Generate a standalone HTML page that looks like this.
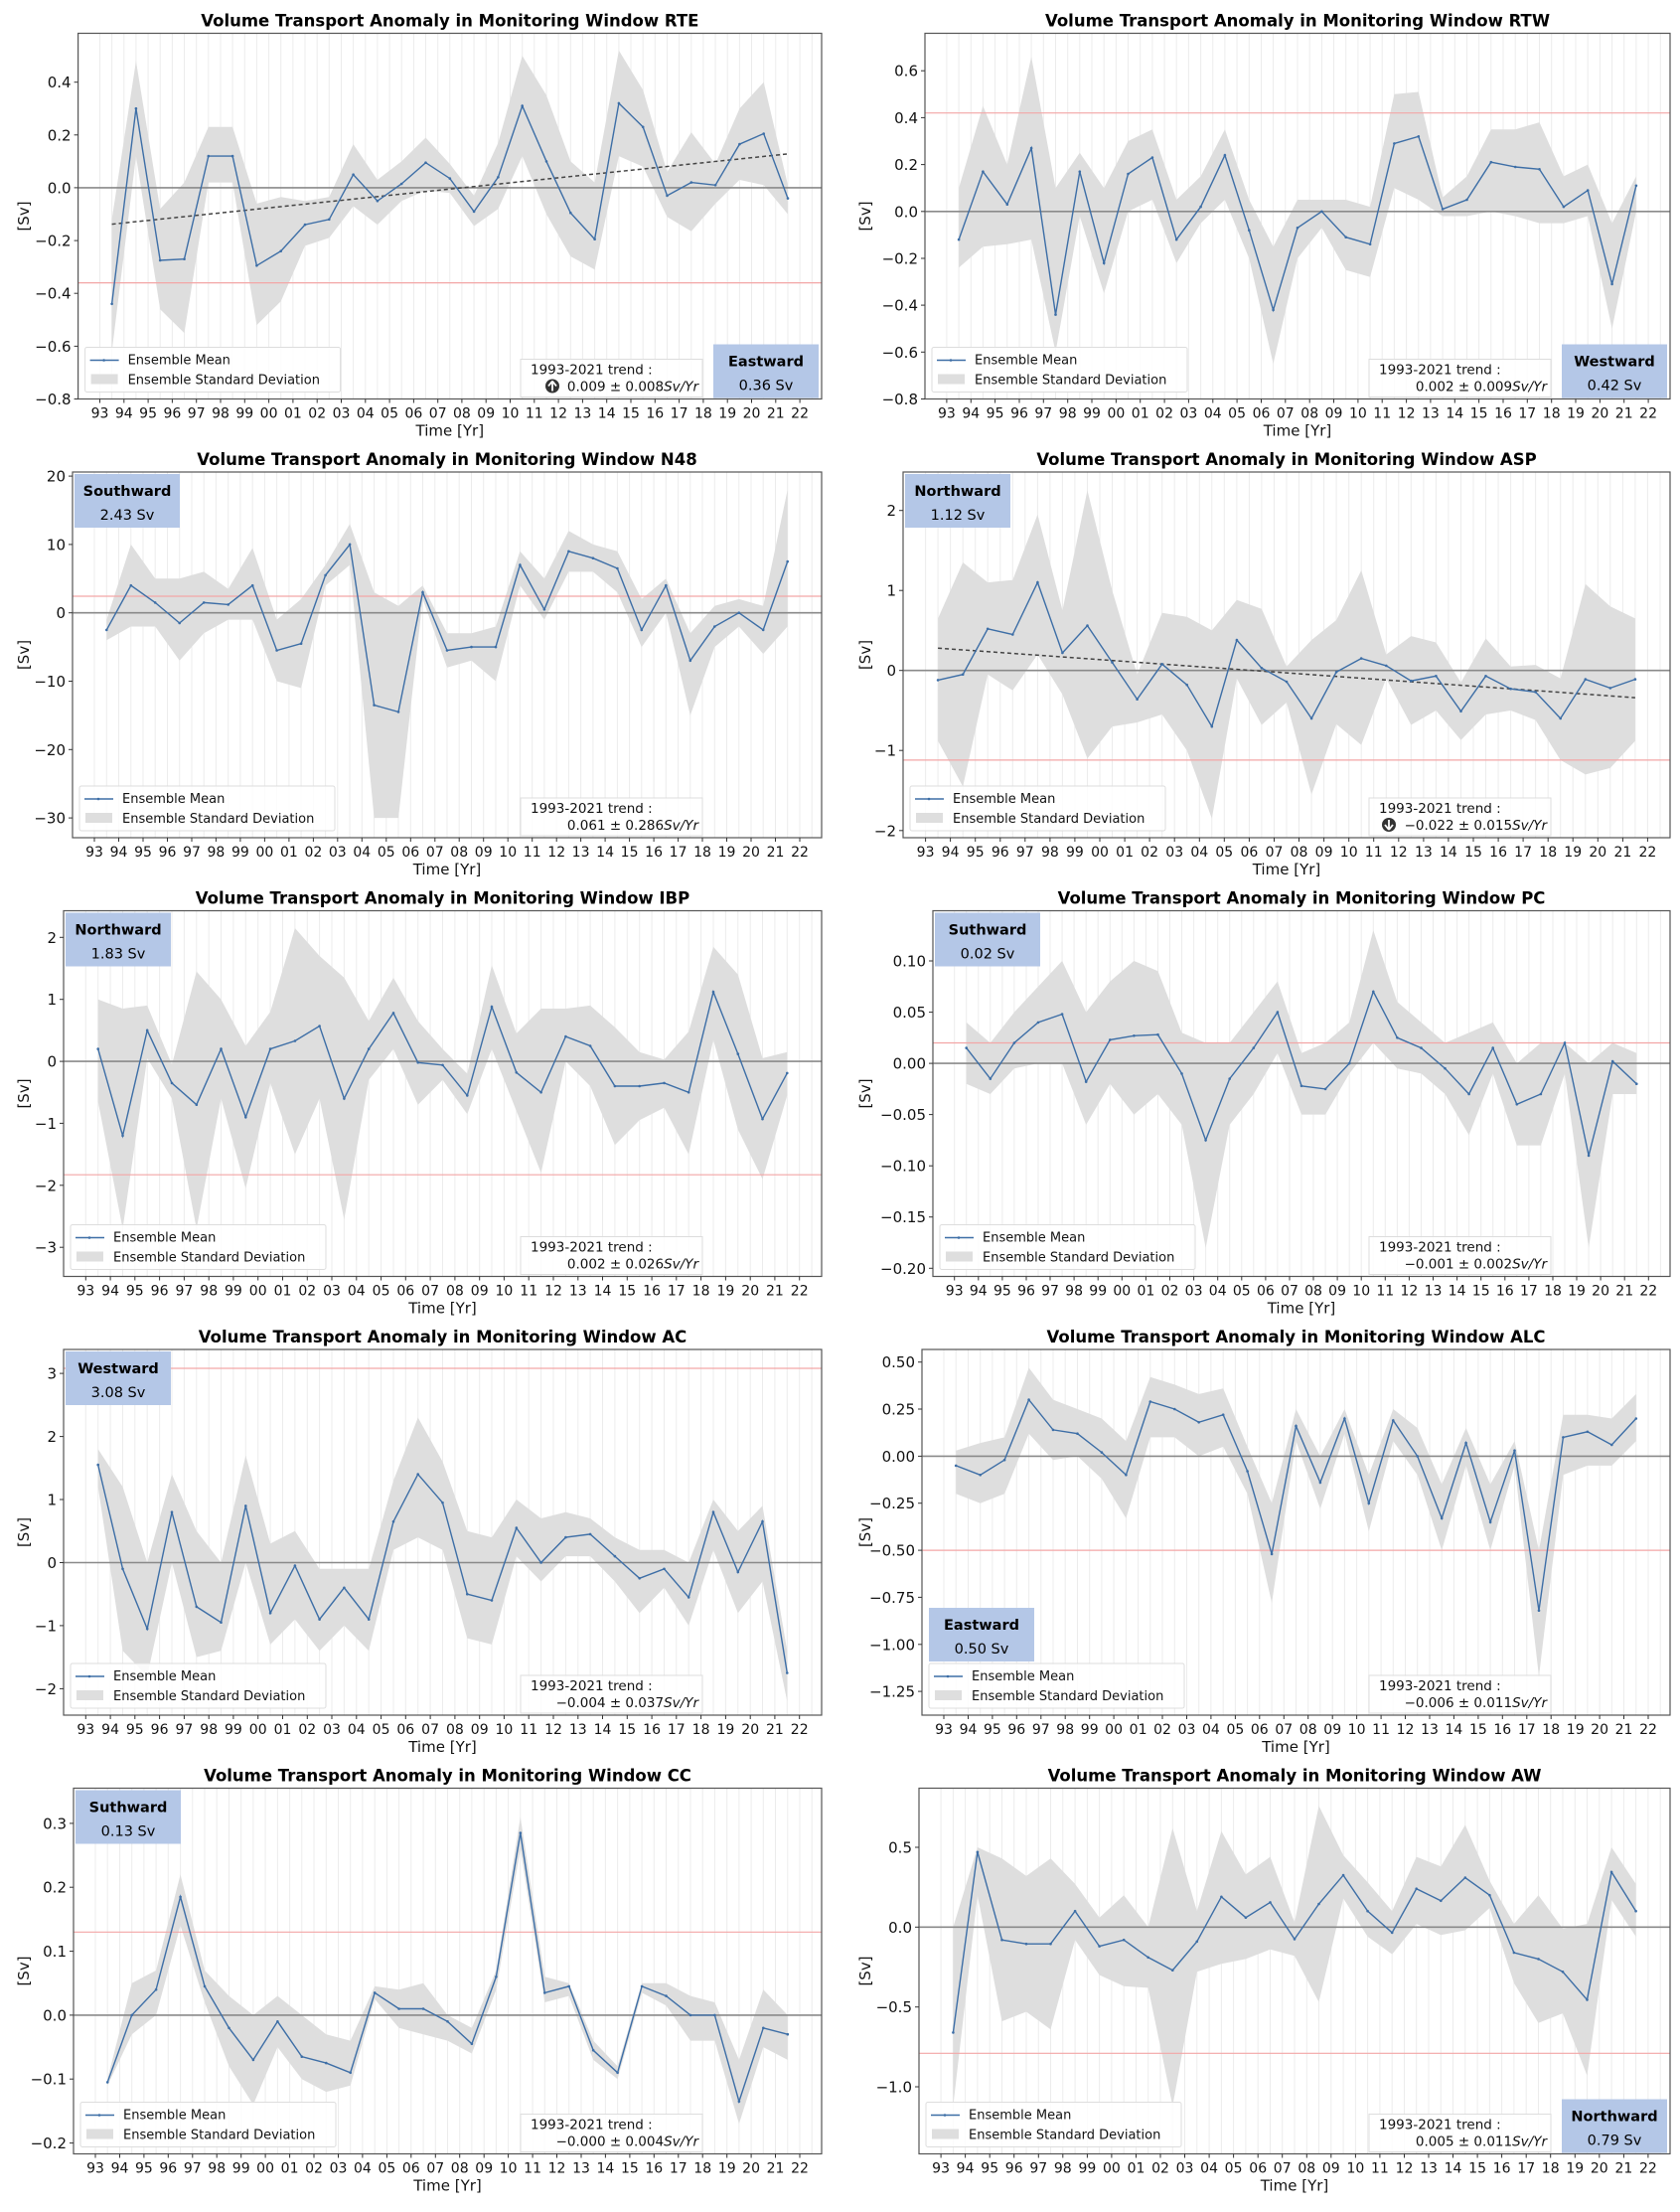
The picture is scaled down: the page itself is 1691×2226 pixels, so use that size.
<!DOCTYPE html>
<html><head><meta charset="utf-8">
<style>
html,body{margin:0;padding:0;background:#fff;}
svg{display:block;font-family:"DejaVu Sans","Liberation Sans",sans-serif;}
</style></head>
<body>
<svg id="s" width="1691" height="2226" viewBox="0 0 1691 2226" xmlns="http://www.w3.org/2000/svg"></svg>
<script>
const P=[
{name:"RTE",col:0,row:0,left:78.6,ylim:[0.585,-0.8],ticks:[[0.4,"0.4"],[0.2,"0.2"],[0,"0.0"],[-0.2,"\u22120.2"],[-0.4,"\u22120.4"],[-0.6,"\u22120.6"],[-0.8,"\u22120.8"]],
 m:[-0.44,0.30,-0.275,-0.27,0.12,0.12,-0.295,-0.24,-0.14,-0.12,0.05,-0.05,0.015,0.095,0.035,-0.09,0.04,0.31,0.10,-0.095,-0.195,0.32,0.23,-0.03,0.02,0.01,0.165,0.205,-0.04],
 u:[-0.12,0.48,-0.08,0.02,0.23,0.23,-0.06,-0.035,-0.05,-0.035,0.165,0.03,0.10,0.19,0.09,-0.03,0.17,0.50,0.35,0.10,0.02,0.52,0.37,0.06,0.21,0.09,0.30,0.40,0.01],
 l:[-0.62,0.12,-0.46,-0.55,0.02,0.02,-0.52,-0.43,-0.22,-0.19,-0.07,-0.14,-0.05,-0.01,-0.02,-0.145,-0.08,0.12,-0.10,-0.26,-0.31,0.12,0.08,-0.11,-0.165,-0.06,0.03,0.01,-0.10],
 red:-0.36,trend:[-0.138,0.128],arrow:"up",tr:"0.009 \u00b1 0.008",box:["Eastward","0.36 Sv","br"]},
{name:"RTW",col:1,row:0,left:931,ylim:[0.76,-0.8],ticks:[[0.6,"0.6"],[0.4,"0.4"],[0.2,"0.2"],[0,"0.0"],[-0.2,"\u22120.2"],[-0.4,"\u22120.4"],[-0.6,"\u22120.6"],[-0.8,"\u22120.8"]],
 m:[-0.12,0.17,0.03,0.27,-0.44,0.17,-0.22,0.16,0.23,-0.12,0.02,0.24,-0.08,-0.42,-0.07,0.0,-0.11,-0.14,0.29,0.32,0.01,0.05,0.21,0.19,0.18,0.02,0.09,-0.31,0.11],
 u:[0.1,0.45,0.2,0.66,0.1,0.25,0.1,0.3,0.35,0.05,0.15,0.35,0.05,-0.15,0.05,0.05,0.05,0.02,0.5,0.51,0.06,0.15,0.35,0.35,0.38,0.15,0.2,-0.05,0.15],
 l:[-0.24,-0.15,-0.14,-0.12,-0.6,-0.02,-0.35,0.0,0.05,-0.22,-0.05,0.05,-0.2,-0.65,-0.2,-0.07,-0.25,-0.28,0.1,0.05,-0.02,-0.02,0.0,-0.02,-0.05,-0.05,-0.02,-0.5,0.0],
 red:0.42,tr:"0.002 \u00b1 0.009",box:["Westward","0.42 Sv","br"]},
{name:"N48",col:0,row:1,left:73,ylim:[20.6,-32.9],ticks:[[20,"20"],[10,"10"],[0,"0"],[-10,"\u221210"],[-20,"\u221220"],[-30,"\u221230"]],
 m:[-2.5,4,1.5,-1.5,1.5,1.2,4,-5.5,-4.5,5.5,10,-13.5,-14.5,3,-5.5,-5,-5,7,0.5,9,8,6.5,-2.5,4,-7,-2,0,-2.5,7.5],
 u:[-1,10,5,5,6,3.5,9.5,-1,2,7,13,3,1,4,-3,-3,-2,9,5,12,10,9,2,5,-3,1,2,1,18],
 l:[-4,-2,-2,-7,-3,-1,-1,-10,-11,4,7,-30,-30,2,-8,-7,-10,4,-1,6,6,3,-5,0,-15,-5,-2,-6,-2],
 red:2.43,tr:"0.061 \u00b1 0.286",box:["Southward","2.43 Sv","tl"]},
{name:"ASP",col:1,row:1,left:909,ylim:[2.48,-2.09],ticks:[[2,"2"],[1,"1"],[0,"0"],[-1,"\u22121"],[-2,"\u22122"]],
 m:[-0.12,-0.05,0.52,0.45,1.1,0.22,0.56,0.1,-0.36,0.08,-0.18,-0.7,0.38,0.03,-0.14,-0.6,-0.02,0.15,0.06,-0.13,-0.07,-0.51,-0.07,-0.23,-0.27,-0.6,-0.11,-0.22,-0.11],
 u:[0.65,1.35,1.1,1.13,1.95,0.75,2.25,1.0,-0.05,0.72,0.67,0.5,0.88,0.77,0.05,0.38,0.63,1.25,0.2,0.43,0.35,-0.15,0.4,0.05,0.07,-0.1,1.08,0.8,0.65],
 l:[-0.88,-1.45,-0.05,-0.25,0.2,-0.3,-1.1,-0.7,-0.65,-0.55,-1.0,-1.85,-0.1,-0.68,-0.4,-1.55,-0.67,-0.93,-0.1,-0.68,-0.5,-0.87,-0.55,-0.5,-0.62,-1.12,-1.3,-1.22,-0.88],
 red:-1.12,trend:[0.28,-0.34],arrow:"down",tr:"\u22120.022 \u00b1 0.015",box:["Northward","1.12 Sv","tl"]},
{name:"IBP",col:0,row:2,left:64,ylim:[2.43,-3.47],ticks:[[2,"2"],[1,"1"],[0,"0"],[-1,"\u22121"],[-2,"\u22122"],[-3,"\u22123"]],
 m:[0.2,-1.2,0.5,-0.35,-0.7,0.2,-0.9,0.2,0.33,0.57,-0.6,0.2,0.78,-0.02,-0.06,-0.55,0.88,-0.18,-0.5,0.4,0.25,-0.4,-0.4,-0.35,-0.5,1.12,0.12,-0.93,-0.19],
 u:[1.0,0.85,0.9,-0.05,1.45,1.0,0.25,0.8,2.15,1.7,1.35,0.65,1.35,0.65,0.2,-0.2,1.55,0.45,0.85,0.85,0.9,0.55,0.15,0.03,0.48,1.85,1.4,0.05,0.15],
 l:[-0.65,-2.7,0.05,-0.6,-2.7,-0.6,-2.05,-0.35,-1.5,-0.6,-2.55,-0.3,0.2,-0.7,-0.3,-0.85,0.2,-0.8,-1.8,0.0,-0.4,-1.35,-0.95,-0.75,-1.5,0.35,-1.1,-1.9,-0.55],
 red:-1.83,tr:"0.002 \u00b1 0.026",box:["Northward","1.83 Sv","tl"]},
{name:"PC",col:1,row:2,left:939,ylim:[0.149,-0.208],ticks:[[0.1,"0.10"],[0.05,"0.05"],[0,"0.00"],[-0.05,"\u22120.05"],[-0.1,"\u22120.10"],[-0.15,"\u22120.15"],[-0.2,"\u22120.20"]],
 m:[0.015,-0.015,0.02,0.04,0.048,-0.018,0.023,0.027,0.028,-0.01,-0.075,-0.015,0.015,0.05,-0.022,-0.025,0.0,0.07,0.025,0.015,-0.005,-0.03,0.015,-0.04,-0.03,0.02,-0.09,0.002,-0.02],
 u:[0.04,0.02,0.05,0.075,0.10,0.05,0.08,0.10,0.09,0.03,0.02,0.02,0.05,0.08,0.01,0.02,0.04,0.13,0.06,0.04,0.02,0.03,0.04,0.0,0.02,0.02,0.0,0.02,0.01],
 l:[-0.02,-0.03,-0.005,0.0,0.0,-0.06,-0.02,-0.05,-0.03,-0.06,-0.18,-0.06,-0.03,0.01,-0.05,-0.05,-0.01,0.02,-0.005,-0.01,-0.03,-0.07,-0.01,-0.08,-0.08,-0.01,-0.18,-0.03,-0.03],
 red:0.02,tr:"\u22120.001 \u00b1 0.002",box:["Suthward","0.02 Sv","tl"]},
{name:"AC",col:0,row:3,left:64,ylim:[3.38,-2.42],ticks:[[3,"3"],[2,"2"],[1,"1"],[0,"0"],[-1,"\u22121"],[-2,"\u22122"]],
 m:[1.55,-0.1,-1.05,0.8,-0.7,-0.95,0.9,-0.8,-0.05,-0.9,-0.4,-0.9,0.65,1.4,0.95,-0.5,-0.6,0.55,0.0,0.4,0.45,0.1,-0.25,-0.1,-0.55,0.8,-0.15,0.65,-1.75],
 u:[1.8,1.2,0.0,1.4,0.5,0.0,1.7,0.3,0.5,-0.1,-0.1,-0.1,1.3,2.3,1.6,0.5,0.4,1.0,0.7,0.8,0.7,0.4,0.2,0.2,0.0,1.0,0.5,0.9,-1.4],
 l:[1.2,-1.4,-1.8,0.0,-1.5,-1.4,0.0,-1.3,-0.9,-1.4,-1.0,-1.4,0.2,0.4,0.2,-1.2,-1.3,0.1,-0.3,0.1,0.1,-0.3,-0.8,-0.4,-1.0,0.2,-0.8,-0.3,-2.2],
 red:3.08,tr:"\u22120.004 \u00b1 0.037",box:["Westward","3.08 Sv","tl"]},
{name:"ALC",col:1,row:3,left:928,ylim:[0.567,-1.376],ticks:[[0.5,"0.50"],[0.25,"0.25"],[0,"0.00"],[-0.25,"\u22120.25"],[-0.5,"\u22120.50"],[-0.75,"\u22120.75"],[-1,"\u22121.00"],[-1.25,"\u22121.25"]],
 m:[-0.05,-0.1,-0.02,0.3,0.14,0.12,0.02,-0.1,0.29,0.25,0.18,0.22,-0.08,-0.52,0.16,-0.14,0.2,-0.25,0.19,0.0,-0.33,0.07,-0.35,0.03,-0.82,0.1,0.13,0.06,0.2],
 u:[0.03,0.07,0.1,0.47,0.3,0.25,0.2,0.08,0.42,0.38,0.33,0.36,0.05,-0.25,0.25,0.0,0.25,-0.1,0.25,0.15,-0.15,0.15,-0.15,0.08,-0.5,0.22,0.22,0.2,0.33],
 l:[-0.2,-0.25,-0.2,0.12,-0.02,0.0,-0.12,-0.33,0.1,0.1,0.0,0.05,-0.2,-0.78,0.08,-0.28,0.12,-0.4,0.08,-0.1,-0.5,-0.05,-0.5,-0.05,-1.17,-0.1,-0.05,-0.05,0.08],
 red:-0.5,tr:"\u22120.006 \u00b1 0.011",box:["Eastward","0.50 Sv","ml"]},
{name:"CC",col:0,row:4,left:74,ylim:[0.355,-0.217],ticks:[[0.3,"0.3"],[0.2,"0.2"],[0.1,"0.1"],[0,"0.0"],[-0.1,"\u22120.1"],[-0.2,"\u22120.2"]],
 m:[-0.105,0.0,0.04,0.185,0.045,-0.02,-0.07,-0.01,-0.065,-0.075,-0.09,0.035,0.01,0.01,-0.01,-0.045,0.06,0.285,0.035,0.045,-0.055,-0.09,0.045,0.03,0.0,0.0,-0.135,-0.02,-0.03],
 u:[-0.1,0.05,0.07,0.22,0.07,0.03,0.0,0.03,0.0,-0.03,-0.04,0.045,0.04,0.05,0.0,-0.02,0.07,0.31,0.06,0.05,-0.04,-0.08,0.05,0.05,0.03,0.02,-0.07,0.04,0.0],
 l:[-0.11,-0.03,0.0,0.14,0.02,-0.08,-0.14,-0.05,-0.1,-0.12,-0.11,0.025,-0.02,-0.03,-0.04,-0.06,0.04,0.26,0.02,0.03,-0.07,-0.1,0.035,0.015,-0.04,-0.04,-0.17,-0.05,-0.07],
 red:0.13,tr:"\u22120.000 \u00b1 0.004",box:["Suthward","0.13 Sv","tl"]},
{name:"AW",col:1,row:4,left:925,ylim:[0.87,-1.42],ticks:[[0.5,"0.5"],[0,"0.0"],[-0.5,"\u22120.5"],[-1,"\u22121.0"]],
 m:[-0.66,0.47,-0.08,-0.105,-0.105,0.1,-0.12,-0.08,-0.19,-0.27,-0.09,0.19,0.06,0.155,-0.075,0.145,0.325,0.1,-0.035,0.24,0.165,0.31,0.2,-0.16,-0.2,-0.28,-0.455,0.345,0.1],
 u:[0.0,0.5,0.43,0.32,0.43,0.27,0.06,0.2,0.0,0.62,0.1,0.6,0.33,0.44,0.03,0.76,0.45,0.28,0.1,0.44,0.38,0.64,0.29,0.02,0.2,-0.01,0.02,0.5,0.27],
 l:[-1.12,0.2,-0.59,-0.53,-0.64,-0.08,-0.3,-0.37,-0.38,-1.12,-0.28,-0.23,-0.2,-0.14,-0.18,-0.47,0.18,-0.06,-0.17,0.02,-0.05,-0.02,0.12,-0.35,-0.6,-0.54,-0.93,0.17,-0.06],
 red:-0.79,tr:"0.005 \u00b1 0.011",box:["Northward","0.79 Sv","br"]}
];
let o="";
const f=v=>v.toFixed(1);
for(const p of P){
 const top=33.5+441.5*p.row, H=368, bot=top+H, L=p.left, R=p.col?1681:827, W=R-L;
 const X=t=>L+(t-92.1)/30.8*W;
 const Y=v=>top+(p.ylim[0]-v)/(p.ylim[0]-p.ylim[1])*H;
 o+=`<defs><clipPath id="c${p.name}"><rect x="${L}" y="${top}" width="${W}" height="${H}"/></clipPath></defs>`;
 for(let t=93;t<=122.5;t+=0.5){o+=`<line x1="${f(X(t))}" y1="${top}" x2="${f(X(t))}" y2="${bot}" stroke="#ececec" stroke-width="1"/>`;}
 let pts=[];for(let i=0;i<29;i++)pts.push(f(X(93.5+i))+","+f(Y(p.u[i])));
 for(let i=28;i>=0;i--)pts.push(f(X(93.5+i))+","+f(Y(p.l[i])));
 o+=`<g clip-path="url(#c${p.name})"><polygon points="${pts.join(" ")}" fill="#dedede"/>`;
 o+=`<line x1="${L}" y1="${f(Y(0))}" x2="${R}" y2="${f(Y(0))}" stroke="#8a8a8a" stroke-width="1.6"/>`;
 o+=`<line x1="${L}" y1="${f(Y(p.red))}" x2="${R}" y2="${f(Y(p.red))}" stroke="#f3a6a6" stroke-width="1.2"/>`;
 if(p.trend)o+=`<line x1="${f(X(93.5))}" y1="${f(Y(p.trend[0]))}" x2="${f(X(121.5))}" y2="${f(Y(p.trend[1]))}" stroke="#444" stroke-width="1.5" stroke-dasharray="4,3"/>`;
 let mp=[];for(let i=0;i<29;i++)mp.push(f(X(93.5+i))+","+f(Y(p.m[i])));
 o+=`<polyline points="${mp.join(" ")}" fill="none" stroke="#3d6ea6" stroke-width="1.4"/>`;
 for(let i=0;i<29;i++)o+=`<circle cx="${f(X(93.5+i))}" cy="${f(Y(p.m[i]))}" r="1.3" fill="#3d6ea6"/>`;
 o+=`</g>`;
 o+=`<rect x="${L}" y="${top}" width="${W}" height="${H}" fill="none" stroke="#555" stroke-width="1.2"/>`;
 for(let k=0;k<30;k++){const t=93+k,x=X(t);o+=`<line x1="${f(x)}" y1="${bot}" x2="${f(x)}" y2="${bot+4}" stroke="#333"/>`;
  o+=`<text x="${f(x)}" y="${bot+19}" font-size="14" text-anchor="middle" fill="#111">${String(t%100).padStart(2,"0")}</text>`;}
 o+=`<text x="${f(L+W/2)}" y="${bot+37}" font-size="15" text-anchor="middle" fill="#111">Time [Yr]</text>`;
 for(const [v,s] of p.ticks){const y=Y(v);o+=`<line x1="${L-4}" y1="${f(y)}" x2="${L}" y2="${f(y)}" stroke="#333"/><text x="${L-7}" y="${f(y+5.5)}" font-size="15" text-anchor="end" fill="#111">${s}</text>`;}
 const yl=p.col?871:24;
 o+=`<text transform="translate(${yl+5},${f(top+H/2)}) rotate(-90)" font-size="15" text-anchor="middle" fill="#111">[Sv]</text>`;
 o+=`<text x="${f(L+W/2)}" y="${top-7}" font-size="16.5" font-weight="bold" text-anchor="middle" fill="#000">Volume Transport Anomaly in Monitoring Window ${p.name}</text>`;
 const lx=L+7, ly=bot-52;
 o+=`<rect x="${lx}" y="${ly}" width="257" height="45" rx="2" fill="#fff" fill-opacity="0.85" stroke="#ddd"/>`;
 o+=`<line x1="${lx+5}" y1="${ly+13}" x2="${lx+34}" y2="${ly+13}" stroke="#3d6ea6" stroke-width="1.4"/><circle cx="${lx+19}" cy="${ly+13}" r="1.3" fill="#3d6ea6"/>`;
 o+=`<text x="${lx+43}" y="${ly+17}" font-size="13" fill="#111">Ensemble Mean</text>`;
 o+=`<rect x="${lx+6}" y="${ly+27}" width="27" height="10" fill="#dedede"/>`;
 o+=`<text x="${lx+43}" y="${ly+37}" font-size="13" fill="#111">Ensemble Standard Deviation</text>`;
 const tx=R-303, ty=bot-40;
 o+=`<rect x="${tx}" y="${ty}" width="183" height="38" fill="#fff" fill-opacity="0.85" stroke="#ddd"/>`;
 o+=`<text x="${tx+10}" y="${ty+15}" font-size="13.5" fill="#111">1993-2021 trend :</text>`;
 o+=`<text x="${tx+179}" y="${ty+32}" font-size="13.5" text-anchor="end" fill="#111">${p.tr}<tspan font-style="italic">Sv/Yr</tspan></text>`;
 if(p.arrow){const cx=p.arrow=="up"?tx+32:tx+20,cy=ty+27;
  o+=`<circle cx="${cx}" cy="${cy}" r="7" fill="#333"/>`;
  if(p.arrow=="up")o+=`<path d="M${cx} ${cy-5} L${cx-4} ${cy} M${cx} ${cy-5} L${cx+4} ${cy} M${cx} ${cy-5} L${cx} ${cy+5}" stroke="#fff" stroke-width="1.8" fill="none"/>`;
  else o+=`<path d="M${cx} ${cy+5} L${cx-4} ${cy} M${cx} ${cy+5} L${cx+4} ${cy} M${cx} ${cy+5} L${cx} ${cy-5}" stroke="#fff" stroke-width="1.8" fill="none"/>`;}
 let bx,by;
 if(p.box[2]=="br"){bx=R-109;by=bot-55;}else if(p.box[2]=="tl"){bx=L+2;by=top+2;}else{bx=L+7;by=ly-56;}
 o+=`<rect x="${bx}" y="${by}" width="106" height="54" fill="#b4c7e7"/>`;
 o+=`<text x="${bx+53}" y="${by+22}" font-size="14.5" font-weight="bold" text-anchor="middle" fill="#000">${p.box[0]}</text>`;
 o+=`<text x="${bx+53}" y="${by+46}" font-size="14.5" text-anchor="middle" fill="#000">${p.box[1]}</text>`;
}
document.getElementById("s").innerHTML=o;
</script>
</body></html>
